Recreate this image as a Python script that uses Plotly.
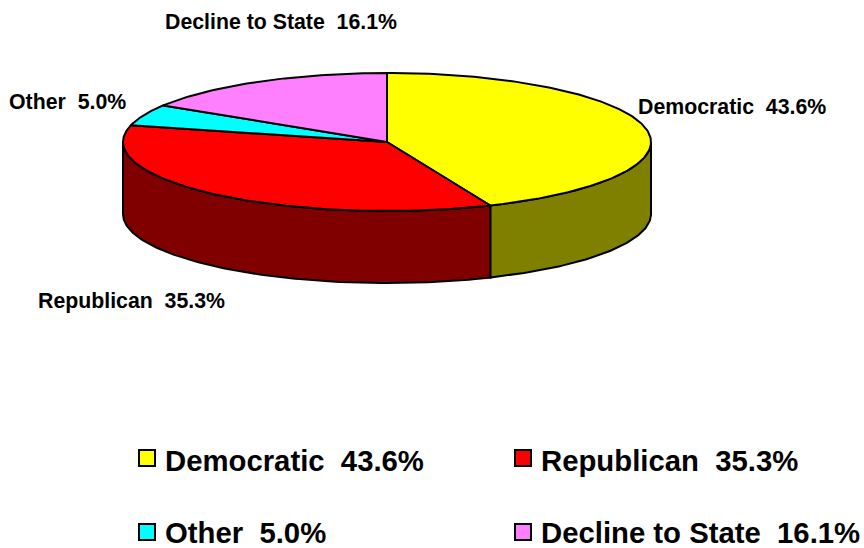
import numpy as np
import plotly.graph_objects as go

categories = ["Democratic", "Republican", "Other", "Decline to State"]
values = [43.6, 35.3, 5.0, 16.1]
top_colors = ["#FFFF00", "#FF0000", "#00FFFF", "#FF80FF"]
side_colors = ["#808000", "#800000", "#008080", "#804080"]
label_x = [638, 38, 9, 165]
label_y = [107, 301, 102, 22]
legend_x = [147, 523, 147, 523]
legend_y = [458, 458, 532, 532]
legend_text_y = [460, 460, 532, 532]

CX, CY, RX, RY, DEPTH = 387, 142, 264, 69, 72


def arc(t0, t1, dy=0.0):
    n = max(int(abs(t1 - t0) / 1.0), 2)
    t = np.radians(np.linspace(t0, t1, n))
    return CX + RX * np.sin(t), CY - RY * np.cos(t) + dy


fig = go.Figure()
line = dict(color="black", width=2)


def poly(x, y, color):
    fig.add_trace(go.Scatter(x=list(x), y=list(y), mode="lines", fill="toself",
                             fillcolor=color, line=line, hoverinfo="skip", showlegend=False))


edges = np.concatenate([[0], np.cumsum(values)]) / sum(values) * 360

# visible side walls (front half of the ellipse: 90 to 270 degrees)
for i in range(len(values)):
    a, b = max(edges[i], 90), min(edges[i + 1], 270)
    if b > a:
        x0, y0 = arc(a, b)
        x1, y1 = arc(b, a, DEPTH)
        poly(np.r_[x0, x1, x0[0]], np.r_[y0, y1, y0[0]], side_colors[i])

# top faces
for i in range(len(values)):
    x0, y0 = arc(edges[i], edges[i + 1])
    poly(np.r_[CX, x0, CX], np.r_[CY, y0, CY], top_colors[i])

# legend swatches
fig.add_trace(go.Scatter(x=legend_x, y=legend_y, mode="markers", hoverinfo="skip", showlegend=False,
                         marker=dict(symbol="square", size=16, color=top_colors,
                                     line=dict(color="black", width=2))))

FONT = "Liberation Sans, Arial, sans-serif"
for c, v, lx, ly, gx, gy in zip(categories, values, label_x, label_y, legend_x, legend_text_y):
    text = f"<b>{c}\u00a0\u00a0{v:.1f}%</b>"
    fig.add_annotation(x=lx, y=ly, text=text, showarrow=False, xanchor="left", yanchor="middle",
                       xshift=-2, font=dict(family=FONT, size=21.3, color="black"))
    fig.add_annotation(x=gx + 18, y=gy, text=text, showarrow=False, xanchor="left", yanchor="middle",
                       xshift=-2, font=dict(family=FONT, size=29.3, color="black"))

fig.update_layout(
    width=864, height=548, margin=dict(l=0, r=0, t=0, b=0),
    paper_bgcolor="white", plot_bgcolor="white",
    xaxis=dict(range=[0, 864], visible=False, fixedrange=True),
    yaxis=dict(range=[548, 0], visible=False, fixedrange=True),
)
fig.write_html("out.html", config=dict(displayModeBar=False),
               post_script="document.body.style.margin='0';document.body.style.overflow='hidden';")
